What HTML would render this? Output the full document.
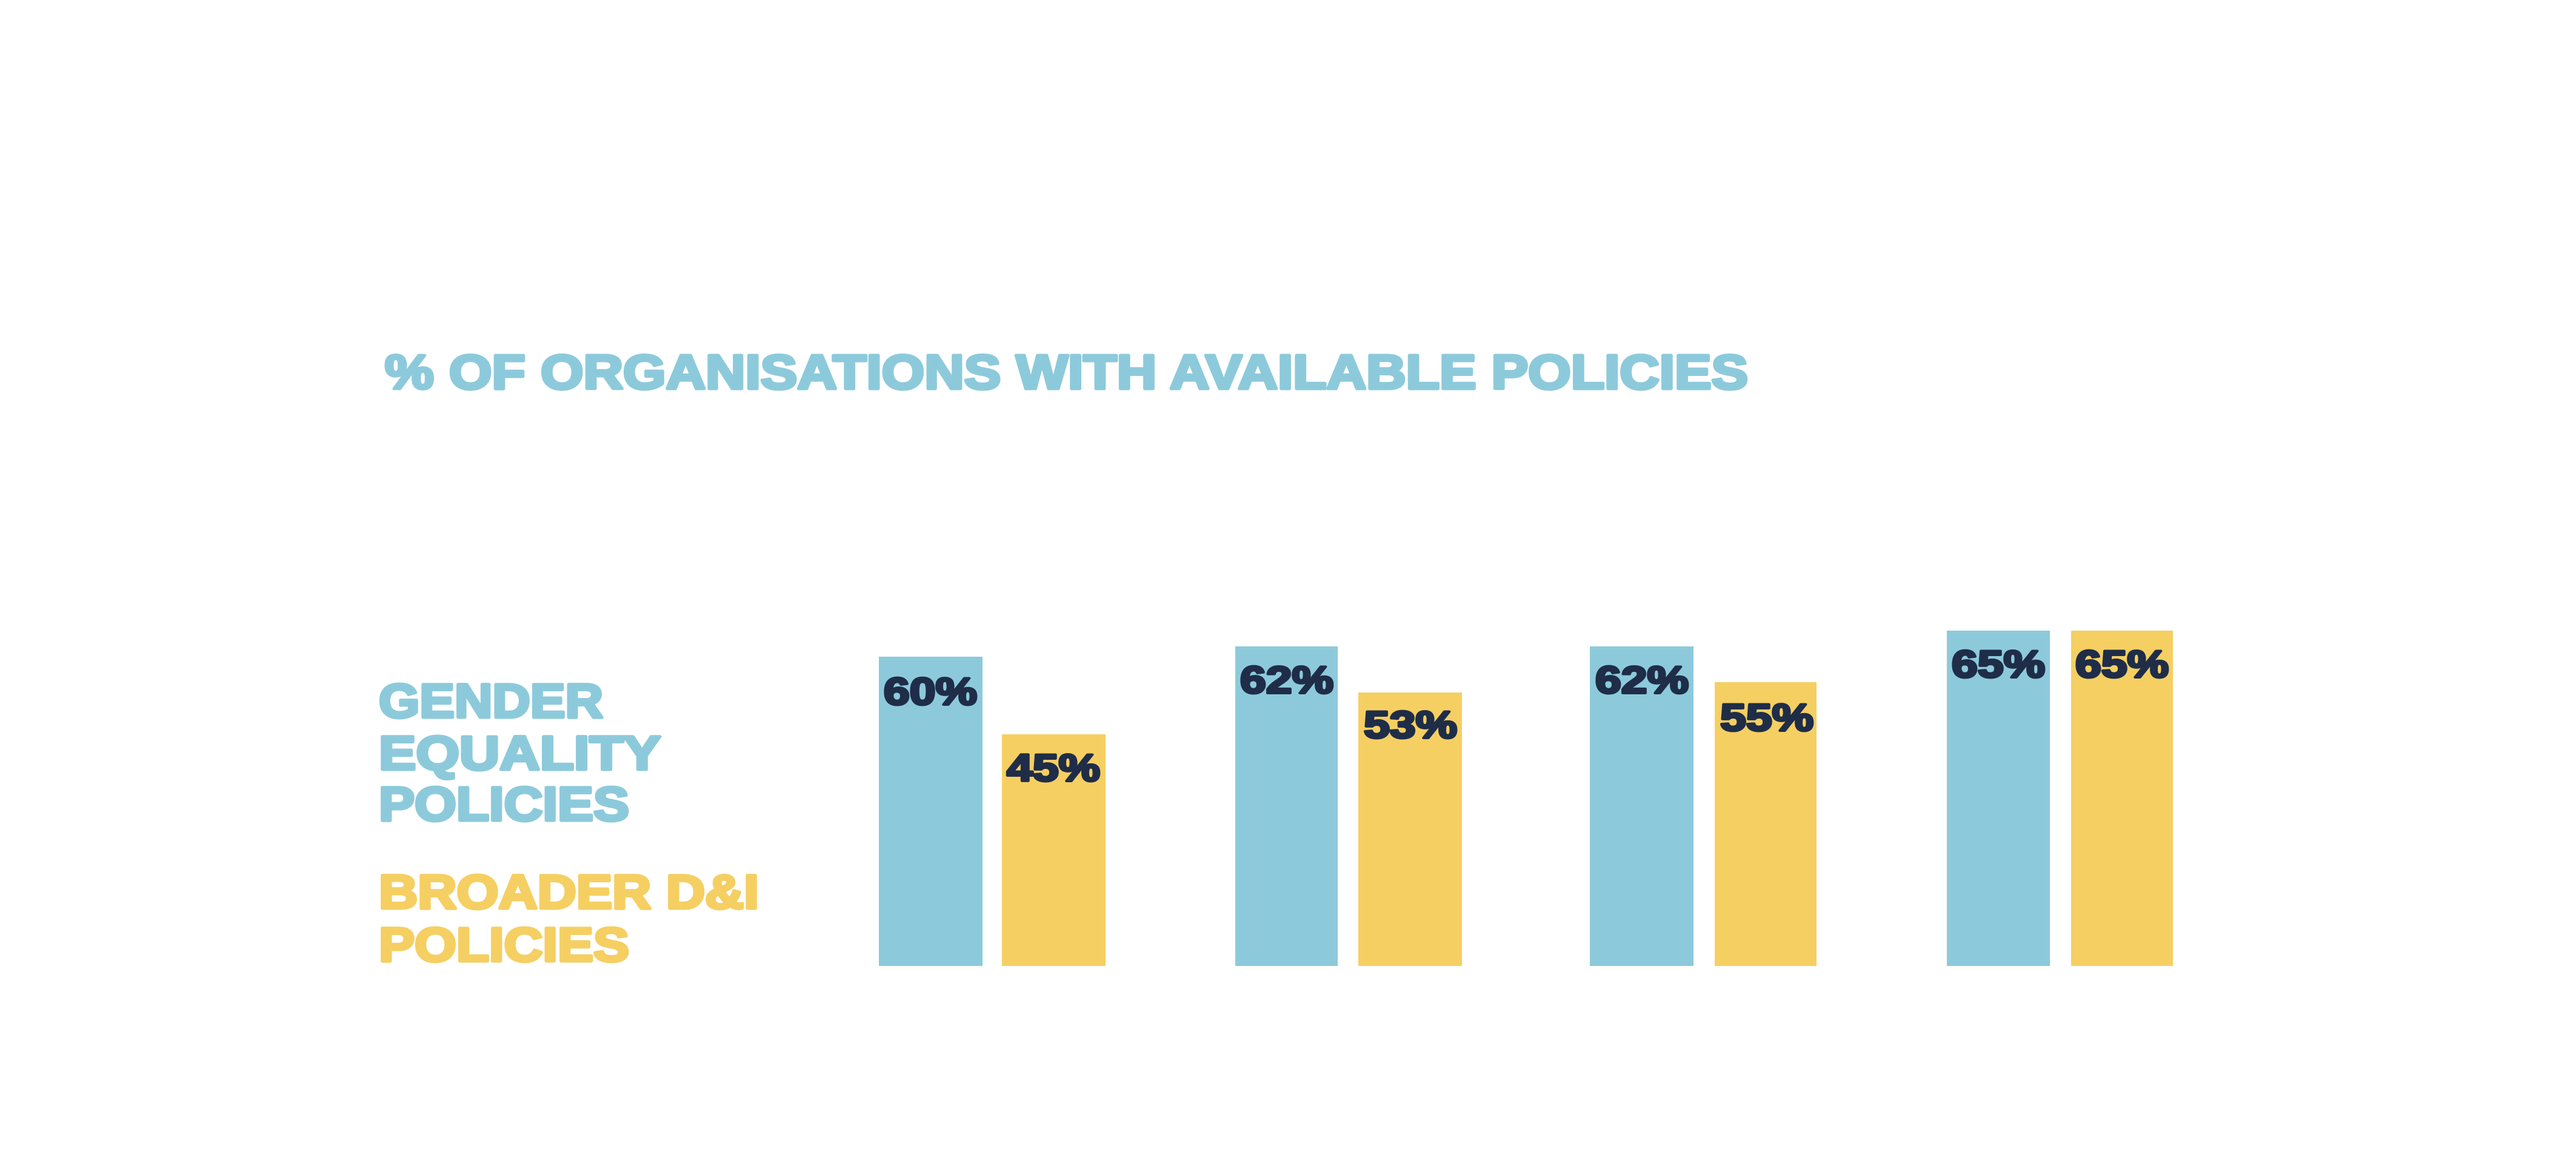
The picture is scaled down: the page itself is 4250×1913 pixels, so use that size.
<!DOCTYPE html>
<html><head><meta charset="utf-8"><style>
html,body{margin:0;padding:0;background:#fff;}
svg{display:block;}
text{font-family:"Liberation Sans",sans-serif;font-weight:bold;stroke-linejoin:round;}
</style></head><body>
<svg width="4250" height="1913" viewBox="0 0 4250 1913" xmlns="http://www.w3.org/2000/svg">
<rect width="4250" height="1913" fill="#fff"/>
<text x="635" y="641" font-size="80" fill="#8CCADB" stroke="#8CCADB" stroke-width="5" textLength="2249" lengthAdjust="spacingAndGlyphs">% OF ORGANISATIONS WITH AVAILABLE POLICIES</text>
<g fill="#8CCADB" stroke="#8CCADB" stroke-width="5" font-size="79">
<text x="625" y="1183" textLength="370" lengthAdjust="spacingAndGlyphs">GENDER</text>
<text x="625" y="1269" textLength="465" lengthAdjust="spacingAndGlyphs">EQUALITY</text>
<text x="625" y="1353" textLength="413" lengthAdjust="spacingAndGlyphs">POLICIES</text>
</g>
<g fill="#F5CF62" stroke="#F5CF62" stroke-width="5" font-size="79">
<text x="625" y="1498" textLength="627" lengthAdjust="spacingAndGlyphs">BROADER D&amp;I</text>
<text x="625" y="1585" textLength="413" lengthAdjust="spacingAndGlyphs">POLICIES</text>
</g>
<g fill="#8CCADB">
<rect x="1450" y="1083" width="171" height="510"/>
<rect x="2038" y="1066" width="169" height="527"/>
<rect x="2623" y="1066" width="171" height="527"/>
<rect x="3212" y="1040" width="170" height="553"/>
</g>
<g fill="#F5CF62">
<rect x="1653" y="1211" width="171" height="382"/>
<rect x="2241" y="1142" width="171" height="451"/>
<rect x="2829" y="1125" width="168" height="468"/>
<rect x="3417" y="1040" width="168" height="553"/>
</g>
<g fill="#1F2D48" stroke="#1F2D48" stroke-width="4" font-size="63">
<text x="1458" y="1162" textLength="154" lengthAdjust="spacingAndGlyphs">60%</text>
<text x="1661" y="1288" textLength="154" lengthAdjust="spacingAndGlyphs">45%</text>
<text x="2046" y="1143" textLength="154" lengthAdjust="spacingAndGlyphs">62%</text>
<text x="2250" y="1217" textLength="154" lengthAdjust="spacingAndGlyphs">53%</text>
<text x="2632" y="1143" textLength="154" lengthAdjust="spacingAndGlyphs">62%</text>
<text x="2838" y="1205" textLength="154" lengthAdjust="spacingAndGlyphs">55%</text>
<text x="3220" y="1117" textLength="154" lengthAdjust="spacingAndGlyphs">65%</text>
<text x="3424" y="1117" textLength="154" lengthAdjust="spacingAndGlyphs">65%</text>
</g>
</svg>
</body></html>
